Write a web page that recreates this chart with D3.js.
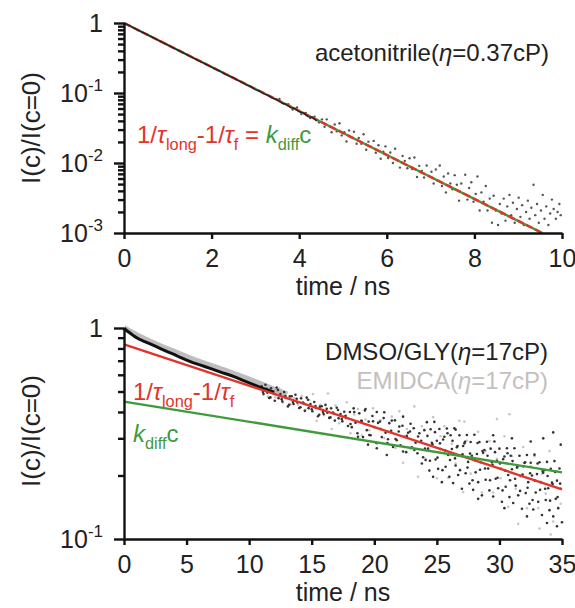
<!DOCTYPE html>
<html>
<head>
<meta charset="utf-8">
<script src="https://cdn.jsdelivr.net/npm/d3@7"></script>
<style>
    body { margin: 0; background: #fff; }
    svg { display: block; }
    .chart__axis path, .chart__axis line { stroke: #111; stroke-width: 2.4; }
    .chart__axis text { font-family: "Liberation Sans", Arial, sans-serif; font-size: 25px; fill: #222; }
    .label { font-family: "Liberation Sans", Arial, sans-serif; fill: #222; }
</style>
</head>
<body>
<div id="chart"></div>
<script>
// top panel: acetonitrile, decay
var acnEarly = [[0, 1], [0.1, 0.93], [0.2, 0.866], [0.3, 0.804], [0.4, 0.748], [0.5, 0.697], [0.6, 0.647],
    [0.7, 0.602], [0.8, 0.56], [0.9, 0.52], [1.0, 0.485], [1.1, 0.45], [1.2, 0.419], [1.3, 0.389], [1.4, 0.362],
    [1.5, 0.337], [1.6, 0.313], [1.7, 0.291], [1.8, 0.271], [1.9, 0.252], [2.0, 0.234], [2.1, 0.218], [2.2, 0.203],
    [2.3, 0.188], [2.4, 0.175], [2.5, 0.164], [2.6, 0.151], [2.7, 0.142], [2.8, 0.13], [2.9, 0.123], [3.0, 0.112],
    [3.1, 0.106], [3.2, 0.097], [3.3, 0.092], [3.4, 0.084], [3.5, 0.08], [3.6, 0.072], [3.7, 0.069], [3.8, 0.062],
    [3.9, 0.06], [4.0, 0.054], [4.1, 0.052], [4.2, 0.046], [4.3, 0.045], [4.4, 0.04]];

var acnScatter = [[3.55, 0.082], [3.65, 0.07], [3.75, 0.069], [3.85, 0.058], [3.95, 0.062], [4.05, 0.05],
    [4.15, 0.052], [4.25, 0.044], [4.35, 0.046], [4.45, 0.038],
    [4.52, 0.042], [4.58, 0.033], [4.63, 0.042], [4.69, 0.0336], [4.74, 0.0275], [4.81, 0.0355], [4.86, 0.0283],
    [4.92, 0.037], [4.97, 0.0248], [5.03, 0.0276], [5.08, 0.0203], [5.14, 0.0292], [5.19, 0.0234], [5.25, 0.028],
    [5.31, 0.0188], [5.36, 0.0228], [5.42, 0.0188], [5.47, 0.0258], [5.53, 0.0155], [5.58, 0.0202], [5.64, 0.0169],
    [5.7, 0.0207], [5.75, 0.014], [5.81, 0.0179], [5.86, 0.0115], [5.92, 0.0145], [5.97, 0.0173], [6.03, 0.0118],
    [6.08, 0.0141], [6.14, 0.01], [6.19, 0.016], [6.25, 0.0109], [6.3, 0.0086], [6.36, 0.0126], [6.41, 0.0107],
    [6.47, 0.0084], [6.52, 0.0117], [6.58, 0.0082], [6.63, 0.012], [6.69, 0.0063], [6.74, 0.0091], [6.8, 0.0077],
    [6.85, 0.0062], [6.91, 0.0092], [6.96, 0.0065], [7.02, 0.0075], [7.07, 0.0051],
    [7.12, 0.0081], [7.16, 0.0056], [7.21, 0.0092], [7.26, 0.0047], [7.3, 0.0064], [7.35, 0.0038], [7.4, 0.0071],
    [7.45, 0.0051], [7.5, 0.0042], [7.55, 0.0067], [7.6, 0.0049], [7.65, 0.0029], [7.7, 0.0051], [7.74, 0.0037],
    [7.79, 0.0068], [7.84, 0.003], [7.88, 0.0044], [7.93, 0.0053], [7.98, 0.0028], [8.03, 0.0036], [8.07, 0.0064],
    [8.12, 0.0021], [8.16, 0.0038], [8.21, 0.0028], [8.26, 0.0047], [8.3, 0.0021], [8.35, 0.0031], [8.4, 0.0014],
    [8.44, 0.0034], [8.49, 0.0021],
    [8.54, 0.0013], [8.58, 0.0026], [8.62, 0.0019], [8.67, 0.0031], [8.71, 0.0015], [8.75, 0.0024], [8.8, 0.0035],
    [8.84, 0.0018], [8.88, 0.0027], [8.92, 0.0014], [8.97, 0.0022], [9.01, 0.0032], [9.05, 0.0017], [9.09, 0.0025],
    [9.13, 0.0013], [9.18, 0.002], [9.22, 0.0029], [9.26, 0.0016], [9.3, 0.0023], [9.35, 0.0049], [9.39, 0.0018],
    [9.43, 0.0026], [9.47, 0.0014], [9.52, 0.0021], [9.56, 0.0035], [9.6, 0.0016], [9.64, 0.0024], [9.69, 0.0013],
    [9.73, 0.0019], [9.77, 0.003], [9.81, 0.0022], [9.86, 0.0016], [9.9, 0.002], [9.94, 0.0026], [9.97, 0.0018]];

var acnFit = [[0, 1], [9.55, 0.001]];

// bottom panel: DMSO/GLY (black) and EMIDCA (grey)
var dmsoEarly = [[0, 1.0], [0.2, 0.975], [0.4, 0.955], [0.6, 0.935], [0.8, 0.915], [1.0, 0.9], [1.3, 0.88],
    [1.6, 0.865], [2.0, 0.845], [2.5, 0.82], [3.0, 0.795], [3.5, 0.77], [4.0, 0.75], [4.5, 0.725], [5.0, 0.705],
    [5.5, 0.685], [6.0, 0.67], [6.5, 0.655], [7.0, 0.64], [7.5, 0.625], [8.0, 0.61], [8.5, 0.597], [9.0, 0.582],
    [9.5, 0.565], [10.0, 0.55], [10.5, 0.535], [11.0, 0.52], [11.5, 0.508], [12.0, 0.496]];

var emiEarly = [[0, 1.0], [0.5, 0.96], [1, 0.925], [2, 0.865], [3, 0.815], [4, 0.772], [5, 0.728], [6, 0.692],
    [7, 0.66], [8, 0.63], [9, 0.6], [10, 0.57], [11, 0.54], [12, 0.51], [13, 0.485]];

var dmsoScatter = [
    [11.0, 0.529], [11.15, 0.486], [11.3, 0.538], [11.45, 0.494], [11.6, 0.466], [11.75, 0.518], [11.9, 0.494],
    [12.05, 0.452], [12.2, 0.522], [12.35, 0.465], [12.5, 0.486], [12.65, 0.449], [12.8, 0.497], [12.95, 0.466],
    [13.1, 0.425], [13.25, 0.474], [13.4, 0.475], [13.55, 0.436], [13.7, 0.483], [13.85, 0.444], [14.0, 0.418],
    [14.15, 0.464], [14.3, 0.443], [14.45, 0.405], [14.6, 0.468], [14.75, 0.417], [14.9, 0.436], [15.05, 0.403],
    [15.2, 0.446], [15.35, 0.418], [15.5, 0.382], [15.65, 0.424], [15.8, 0.426], [15.95, 0.391], [16.1, 0.432],
    [16.25, 0.397], [16.4, 0.375], [16.55, 0.416], [16.7, 0.397], [16.85, 0.364], [17.0, 0.419], [17.15, 0.373],
    [17.3, 0.391], [17.45, 0.361], [17.6, 0.401], [17.75, 0.375], [17.9, 0.343],
    [11.1, 0.497], [11.4, 0.515], [11.7, 0.469], [12.0, 0.487], [12.3, 0.509], [12.6, 0.46], [12.9, 0.476],
    [13.2, 0.433], [13.5, 0.446], [13.8, 0.462], [14.1, 0.421], [14.4, 0.437], [14.7, 0.457], [15.0, 0.412],
    [15.3, 0.427], [15.6, 0.388], [15.9, 0.4], [16.2, 0.414], [16.5, 0.377], [16.8, 0.392], [17.1, 0.409],
    [17.4, 0.37], [17.7, 0.384],
    [18.05, 0.4], [18.2, 0.339], [18.35, 0.416], [18.5, 0.356], [18.65, 0.317], [18.8, 0.394], [18.95, 0.363],
    [19.1, 0.304], [19.25, 0.407], [19.4, 0.328], [19.55, 0.36], [19.7, 0.31], [19.85, 0.383], [20.0, 0.339],
    [20.15, 0.286], [20.3, 0.355], [20.45, 0.36], [20.6, 0.304], [20.75, 0.374], [20.9, 0.319], [21.05, 0.285],
    [21.2, 0.354], [21.35, 0.326], [21.5, 0.273], [21.65, 0.365], [21.8, 0.294], [21.95, 0.323], [22.1, 0.278],
    [22.25, 0.344], [22.4, 0.305], [22.55, 0.258], [22.7, 0.319], [22.85, 0.323], [23.0, 0.272], [23.15, 0.335],
    [23.3, 0.286], [23.45, 0.255], [23.6, 0.317], [23.75, 0.292], [23.9, 0.244],
    [18.1, 0.351], [18.4, 0.4], [18.7, 0.305], [19.0, 0.362], [19.3, 0.413], [19.6, 0.311], [19.9, 0.361],
    [20.2, 0.269], [20.5, 0.332], [20.8, 0.399], [21.1, 0.297], [21.4, 0.364], [21.7, 0.298], [22.0, 0.341],
    [22.3, 0.26], [22.6, 0.308], [22.9, 0.352], [23.2, 0.264], [23.5, 0.306], [23.8, 0.228],
    [24.0, 0.328], [24.1, 0.237], [24.2, 0.358], [24.3, 0.268], [24.4, 0.211], [24.5, 0.331], [24.6, 0.286],
    [24.7, 0.197], [24.8, 0.359], [24.9, 0.238], [25.0, 0.292], [25.1, 0.215], [25.2, 0.332], [25.3, 0.267],
    [25.4, 0.186], [25.5, 0.296], [25.6, 0.305], [25.7, 0.22], [25.8, 0.334], [25.9, 0.25], [26.0, 0.197],
    [26.1, 0.31], [26.2, 0.267], [26.3, 0.184], [26.4, 0.335], [26.5, 0.223], [26.6, 0.272], [26.7, 0.201],
    [26.8, 0.31], [26.9, 0.248], [27.0, 0.173], [27.1, 0.276], [27.2, 0.284], [27.3, 0.205], [27.4, 0.311],
    [27.5, 0.232], [27.6, 0.183], [27.7, 0.288], [27.8, 0.248], [27.9, 0.171], [28.0, 0.312], [28.1, 0.207],
    [28.2, 0.253], [28.3, 0.186], [28.4, 0.288], [28.5, 0.231], [28.6, 0.161], [28.7, 0.256], [28.8, 0.264],
    [28.9, 0.191], [29.0, 0.289], [29.1, 0.216], [29.2, 0.17], [29.3, 0.268], [29.4, 0.231], [29.5, 0.159],
    [29.6, 0.29], [29.7, 0.193], [29.8, 0.235], [29.9, 0.174], [30.0, 0.268], [30.1, 0.215], [30.2, 0.15],
    [30.3, 0.239], [30.4, 0.246], [30.5, 0.177], [30.6, 0.269], [30.7, 0.201], [30.8, 0.158], [30.9, 0.248],
    [31.0, 0.214], [31.1, 0.148], [31.2, 0.269], [31.3, 0.179], [31.4, 0.218], [31.5, 0.161], [31.6, 0.248],
    [31.7, 0.199], [31.8, 0.139], [31.9, 0.221], [32.0, 0.229], [32.1, 0.165], [32.2, 0.25], [32.3, 0.186],
    [32.4, 0.147], [32.5, 0.23], [32.6, 0.2], [32.7, 0.138], [32.8, 0.251], [32.9, 0.166], [33.0, 0.203],
    [33.1, 0.15], [33.2, 0.231], [33.3, 0.186], [33.4, 0.13], [33.5, 0.206], [33.6, 0.212], [33.7, 0.153],
    [33.8, 0.232], [33.9, 0.174], [34.0, 0.137], [34.1, 0.215], [34.2, 0.185], [34.3, 0.128], [34.4, 0.234],
    [34.5, 0.155], [34.6, 0.189], [34.7, 0.14], [34.8, 0.216], [34.9, 0.173], [35.0, 0.12],
    [24.05, 0.268], [24.25, 0.308], [24.45, 0.235], [24.65, 0.281], [24.85, 0.321], [25.05, 0.243], [25.25, 0.284],
    [25.45, 0.212], [25.65, 0.263], [25.85, 0.317], [26.05, 0.237], [26.25, 0.292], [26.45, 0.241], [26.65, 0.276],
    [26.85, 0.212], [27.05, 0.252], [27.25, 0.289], [27.45, 0.218], [27.65, 0.254], [27.85, 0.19], [28.05, 0.236],
    [28.25, 0.285], [28.45, 0.213], [28.65, 0.261], [28.85, 0.216], [29.05, 0.248], [29.25, 0.19], [29.45, 0.225],
    [29.65, 0.258], [29.85, 0.195], [30.05, 0.228], [30.25, 0.17], [30.45, 0.211], [30.65, 0.255], [30.85, 0.19],
    [31.05, 0.234], [31.25, 0.193], [31.45, 0.221], [31.65, 0.169], [31.85, 0.202], [32.05, 0.231], [32.25, 0.175],
    [32.45, 0.205], [32.65, 0.153], [32.85, 0.189], [33.05, 0.228], [33.25, 0.171], [33.45, 0.21], [33.65, 0.173],
    [33.85, 0.199], [34.05, 0.152], [34.25, 0.182], [34.45, 0.208], [34.65, 0.158], [34.85, 0.183],
    [26.5, 0.33], [29.5, 0.31], [31.0, 0.3], [32.5, 0.29], [33.5, 0.3], [34.3, 0.32], [34.9, 0.28], [33.8, 0.119],
    [34.6, 0.115], [32.2, 0.128], [30.4, 0.14], [28.3, 0.155], [22.3, 0.38], [20.2, 0.4], [21.0, 0.25], [19.5, 0.28]];

var emiScatter = [[11.2, 0.533], [11.5, 0.473], [11.8, 0.508], [12.1, 0.47], [12.4, 0.517], [12.7, 0.443],
    [13.0, 0.493], [13.3, 0.435], [13.6, 0.466], [13.9, 0.433], [14.2, 0.476], [14.5, 0.41], [14.8, 0.456],
    [15.1, 0.486], [15.4, 0.363], [15.7, 0.432], [16.0, 0.386], [16.3, 0.489], [16.6, 0.332], [16.9, 0.429],
    [17.2, 0.354], [17.5, 0.38], [17.8, 0.445], [18.1, 0.317], [18.4, 0.389], [18.7, 0.413], [19.0, 0.309],
    [19.3, 0.368], [19.6, 0.328], [19.9, 0.416], [20.2, 0.282], [20.5, 0.365], [20.8, 0.301], [21.1, 0.323],
    [21.4, 0.38], [21.7, 0.27], [22.0, 0.403], [22.3, 0.23], [22.6, 0.332], [22.9, 0.268], [23.2, 0.425],
    [23.5, 0.197], [23.8, 0.342], [24.1, 0.24], [24.4, 0.278], [24.7, 0.378], [25.0, 0.194], [25.3, 0.307],
    [25.6, 0.342], [25.9, 0.195], [26.2, 0.283], [26.5, 0.228], [26.8, 0.363], [27.1, 0.167], [27.4, 0.292],
    [27.7, 0.204], [28.0, 0.236], [28.3, 0.322], [28.6, 0.166], [28.9, 0.261], [29.2, 0.291], [29.5, 0.166],
    [29.8, 0.24], [30.1, 0.194], [30.4, 0.307], [30.7, 0.142], [31.0, 0.247], [31.3, 0.173], [31.6, 0.2],
    [31.9, 0.273], [32.2, 0.14], [32.5, 0.221], [32.8, 0.247], [33.1, 0.14], [33.4, 0.204], [33.7, 0.164],
    [34.0, 0.261], [34.3, 0.121], [34.6, 0.21], [34.9, 0.147], [30.8, 0.39], [29.8, 0.37], [27.2, 0.36],
    [33.2, 0.112], [34.1, 0.105], [31.5, 0.118]];

var longFit = [[0, 0.837], [35, 0.172]];
var diffFit = [[0, 0.448], [35, 0.207]];

var topTicksX = [0, 2, 4, 6, 8, 10];
var bottomTicksX = [0, 5, 10, 15, 20, 25, 30, 35];
var topDecades = [1e-3, 1e-2, 1e-1, 1];
var bottomDecades = [0.1, 1];

var RED = '#e0352b',
    GREEN = '#3f9a3c',
    FONT = '"Liberation Sans", Arial, sans-serif';

var svg = d3.select('#chart').append('svg')
    .attr('width', 575)
    .attr('height', 608);

function minorTicks(decades) {
    var out = [];
    for (var i = 0; i < decades.length - 1; i++) {
        for (var k = 2; k <= 9; k++) out.push(decades[i] * k);
    }
    return out;
}

function decadeLabel(v) {
    if (v === 1) return [{ t: '1' }];
    return [{ t: '10' }, { t: '-' + Math.round(-Math.log10(v)), sup: true }];
}

function drawAxes(g, x, y, ticksX, decades, xLabelY, yLabelY) {
    var axisY = y.range()[0];

    g.append('g').attr('class', 'chart__axis chart__axis--x')
        .attr('transform', 'translate(0,' + axisY + ')')
        .call(d3.axisBottom(x).tickValues(ticksX).tickSize(6).tickSizeOuter(0).tickPadding(10));

    g.append('g').attr('class', 'chart__axis chart__axis--y')
        .attr('transform', 'translate(' + x.range()[0] + ',0)')
        .call(d3.axisLeft(y).tickValues(decades).tickSize(10).tickSizeOuter(0).tickFormat(''));

    var minor = g.append('g').attr('class', 'chart__axis')
        .attr('transform', 'translate(' + x.range()[0] + ',0)')
        .call(d3.axisLeft(y).tickValues(minorTicks(decades)).tickSize(6).tickFormat(''));
    minor.select('.domain').remove();

    decades.forEach(function (v) {
        var txt = g.append('text').attr('class', 'label')
            .attr('x', x.range()[0] - 21)
            .attr('y', y(v) + 9)
            .attr('text-anchor', 'end')
            .style('font-size', '25px');
        decadeLabel(v).forEach(function (p) {
            var s = txt.append('tspan').text(p.t);
            if (p.sup) s.attr('dy', -11).style('font-size', '17px');
        });
    });

    g.append('text').attr('class', 'label')
        .attr('x', (x.range()[0] + x.range()[1]) / 2)
        .attr('y', xLabelY)
        .attr('text-anchor', 'middle')
        .style('font-size', '25px')
        .text('time / ns');

    g.append('text').attr('class', 'label')
        .attr('transform', 'translate(40,' + yLabelY + ') rotate(-90)')
        .attr('text-anchor', 'middle')
        .style('font-size', '26px')
        .text('I(c)/I(c=0)');
}

// rich text with subscripts / italics
function richText(g, x, y, size, parts, anchor) {
    var txt = g.append('text')
        .attr('x', x).attr('y', y)
        .attr('text-anchor', anchor || 'start')
        .style('font-family', FONT)
        .style('font-size', size + 'px');
    var shifted = false;
    parts.forEach(function (p) {
        var s = txt.append('tspan').text(p.t).attr('fill', p.c || '#222');
        if (p.i) s.style('font-style', 'italic');
        if (p.sub) {
            s.style('font-size', (size * 0.68) + 'px');
            if (!shifted) { s.attr('dy', size * 0.3); shifted = true; }
        } else if (shifted) {
            s.attr('dy', -size * 0.3);
            shifted = false;
        }
    });
    return txt;
}

function drawDots(g, x, y, data, color, r) {
    g.append('g').selectAll('circle').data(data).enter().append('circle')
        .attr('cx', function (d) { return x(d[0]); })
        .attr('cy', function (d) { return y(d[1]); })
        .attr('r', r)
        .attr('fill', color);
}

function drawLine(g, x, y, data, color, width, dash) {
    var line = d3.line()
        .x(function (d) { return x(d[0]); })
        .y(function (d) { return y(d[1]); });
    var p = g.append('path').datum(data)
        .attr('d', line)
        .attr('fill', 'none')
        .attr('stroke', color)
        .attr('stroke-width', width)
        .attr('stroke-linejoin', 'round');
    if (dash) p.attr('stroke-dasharray', dash);
    return p;
}

// ---- top panel ----
var xTop = d3.scaleLinear().domain([0, 10]).range([124, 562]);
var yTop = d3.scaleLog().domain([1e-3, 1]).range([233, 23]);
var topPanel = svg.append('g');

drawDots(topPanel, xTop, yTop, acnScatter, '#555', 1.2);
drawLine(topPanel, xTop, yTop, acnFit, GREEN, 2.4);
drawLine(topPanel, xTop, yTop, acnFit, RED, 2.4, '7,3');
drawLine(topPanel, xTop, yTop, acnEarly, '#222', 1.4);
drawAxes(topPanel, xTop, yTop, topTicksX, topDecades, 295, 128);

richText(topPanel, 549, 61, 24, [
    { t: 'acetonitrile(' }, { t: 'η', i: true }, { t: '=0.37cP)' }
], 'end');
richText(topPanel, 137, 143, 24, [
    { t: '1/', c: RED }, { t: 'τ', i: true, c: RED }, { t: 'long', sub: true, c: RED },
    { t: '-1/', c: RED }, { t: 'τ', i: true, c: RED }, { t: 'f', sub: true, c: RED },
    { t: ' = ', c: RED }, { t: 'k', i: true, c: GREEN }, { t: 'diff', sub: true, c: GREEN }, { t: 'c', c: GREEN }
]);

// ---- bottom panel ----
var xBot = d3.scaleLinear().domain([0, 35]).range([124, 562]);
var yBot = d3.scaleLog().domain([0.1, 1]).range([539, 328]);
var botPanel = svg.append('g');

drawLine(botPanel, xBot, yBot, emiEarly, '#bdbdbd', 6);
drawDots(botPanel, xBot, yBot, emiScatter, '#c6c6c6', 1.3);
drawDots(botPanel, xBot, yBot, dmsoScatter, '#333', 1.3);
drawLine(botPanel, xBot, yBot, dmsoEarly, '#111', 3);
drawLine(botPanel, xBot, yBot, longFit, RED, 2.4);
drawLine(botPanel, xBot, yBot, diffFit, GREEN, 2.4);
drawAxes(botPanel, xBot, yBot, bottomTicksX, bottomDecades, 601, 431);

richText(botPanel, 548, 360, 24, [
    { t: 'DMSO/GLY(' }, { t: 'η', i: true }, { t: '=17cP)' }
], 'end');
richText(botPanel, 548, 389, 24, [
    { t: 'EMIDCA(', c: '#c4c0bd' }, { t: 'η', i: true, c: '#c4c0bd' }, { t: '=17cP)', c: '#c4c0bd' }
], 'end');
richText(botPanel, 133, 400, 24, [
    { t: '1/', c: RED }, { t: 'τ', i: true, c: RED }, { t: 'long', sub: true, c: RED },
    { t: '-1/', c: RED }, { t: 'τ', i: true, c: RED }, { t: 'f', sub: true, c: RED }
]);
richText(botPanel, 133, 442, 24, [
    { t: 'k', i: true, c: GREEN }, { t: 'diff', sub: true, c: GREEN }, { t: 'c', c: GREEN }
]);
</script>
</body>
</html>
